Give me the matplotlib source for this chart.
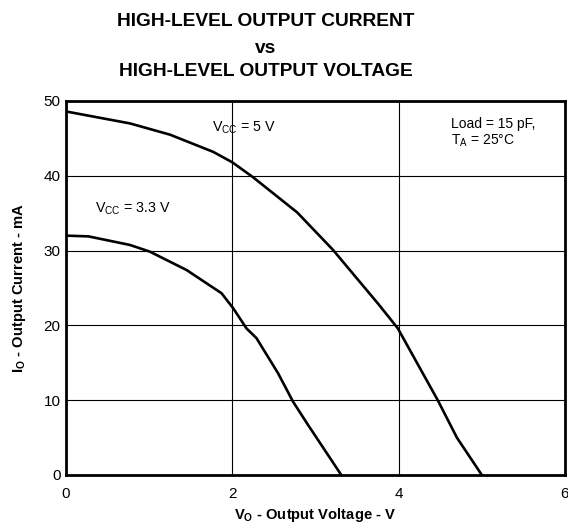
import numpy as np
import matplotlib.pyplot as plt

plt.rcParams['font.family'] = ['Liberation Sans', 'DejaVu Sans']
plt.rcParams['mathtext.fontset'] = 'custom'
plt.rcParams['mathtext.rm'] = 'Liberation Sans'
plt.rcParams['mathtext.bf'] = 'Liberation Sans:bold'

# VCC = 5 V curve (VO in V, IO in mA)
vo_5v = [0.0, 0.77, 1.25, 1.77, 2.0, 2.25, 2.78, 3.21, 3.76, 3.99, 4.47, 4.70, 5.0]
io_5v = [48.6, 47.0, 45.5, 43.2, 41.8, 39.8, 35.1, 30.1, 22.8, 19.6, 10.0, 5.0, 0.0]

# VCC = 3.3 V curve
vo_33v = [0.0, 0.27, 0.77, 1.01, 1.45, 1.87, 2.01, 2.17, 2.29, 2.55, 2.73, 2.91, 3.31]
io_33v = [32.0, 31.9, 30.75, 29.85, 27.4, 24.3, 22.3, 19.6, 18.3, 13.6, 9.8, 6.7, 0.0]

x_ticks = [0, 2, 4, 6]
y_ticks = [0, 10, 20, 30, 40, 50]

fig = plt.figure(figsize=(5.68, 5.23), dpi=100)
ax = fig.add_axes([0.1162, 0.0918, 0.8785, 0.7151])

ax.plot(vo_5v, io_5v, color='black', lw=1.9)
ax.plot(vo_33v, io_33v, color='black', lw=1.9)

ax.set_xlim(0, 6)
ax.set_ylim(0, 50)
ax.set_xticks(x_ticks)
ax.set_yticks(y_ticks)
ax.tick_params(length=0, labelsize=11)
ax.tick_params(axis='x', pad=9)
ax.tick_params(axis='y', pad=4)
ax.grid(True, color='black', lw=0.8)
ax.set_axisbelow(True)
for s in ax.spines.values():
    s.set_linewidth(2)

ax.set_xlabel(r'$\mathbf{V_O}$ - Output Voltage - V', fontsize=10.6, fontweight='bold', labelpad=3)
ax.set_ylabel(r'$\mathbf{I_O}$ - Output Current - mA', fontsize=10.6, fontweight='bold', labelpad=11)

ax.text(1.75, 45.9, r'V$_{\mathregular{CC}}$ = 5 V', fontsize=10.3)
ax.text(0.35, 35.1, r'V$_{\mathregular{CC}}$ = 3.3 V', fontsize=10.3)
ax.text(4.63, 46.4, 'Load = 15 pF,', fontsize=10)
ax.text(4.63, 44.2, r'T$_{\mathregular{A}}$ = 25°C', fontsize=10)

fig.text(0.468, 0.958, 'HIGH-LEVEL OUTPUT CURRENT', ha='center', va='center', fontsize=13.8, fontweight='bold')
fig.text(0.468, 0.908, 'vs', ha='center', va='center', fontsize=13.8, fontweight='bold')
fig.text(0.468, 0.864, 'HIGH-LEVEL OUTPUT VOLTAGE', ha='center', va='center', fontsize=13.8, fontweight='bold')

fig.savefig('out.png', dpi=100)
